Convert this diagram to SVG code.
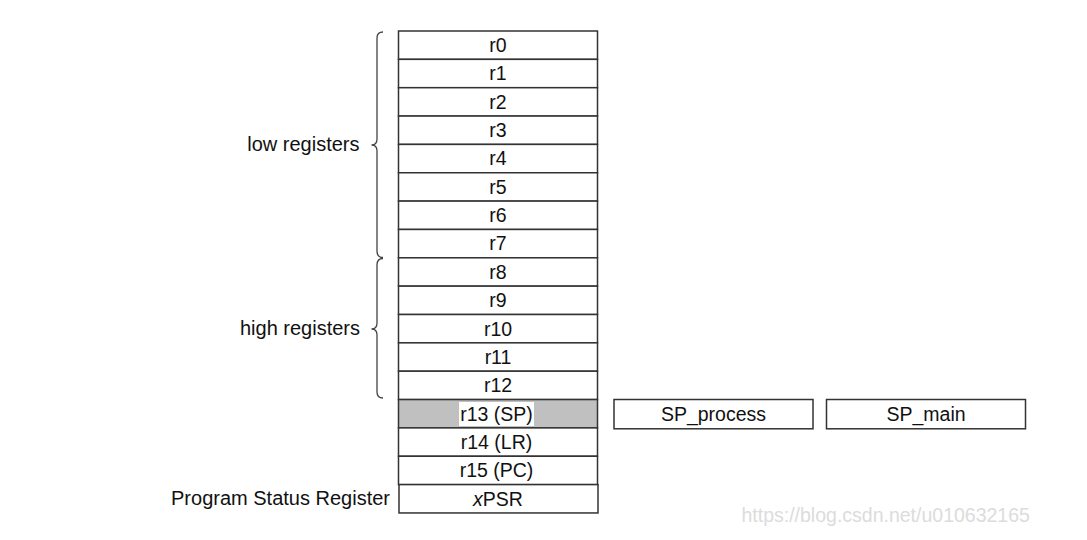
<svg xmlns="http://www.w3.org/2000/svg" width="1087" height="540" viewBox="0 0 1087 540">
<style>
.box{fill:#fff;stroke:#333;stroke-width:1.5}
.gray{fill:#c0c0c0;stroke:#333;stroke-width:1.5}
.t{font-family:"Liberation Sans",Arial,sans-serif;font-size:19.5px;fill:#111;text-anchor:middle}
.lbl{font-family:"Liberation Sans",Arial,sans-serif;font-size:20px;fill:#111;text-anchor:end}
.brace{fill:none;stroke:#444;stroke-width:1.3}
.wm{font-family:"Liberation Sans",Arial,sans-serif;font-size:19.5px;fill:#dcdcdc}
</style>
<rect width="1087" height="540" fill="#fff"/>
<g id="registers">
<g id="r0"><rect class="box" x="398.5" y="31" width="199" height="28.35"/><text class="t" x="498" y="52">r0</text></g>
<g id="r1"><rect class="box" x="398.5" y="59.35" width="199" height="28.35"/><text class="t" x="498" y="80.35">r1</text></g>
<g id="r2"><rect class="box" x="398.5" y="87.7" width="199" height="28.35"/><text class="t" x="498" y="108.7">r2</text></g>
<g id="r3"><rect class="box" x="398.5" y="116.05" width="199" height="28.35"/><text class="t" x="498" y="137.05">r3</text></g>
<g id="r4"><rect class="box" x="398.5" y="144.4" width="199" height="28.35"/><text class="t" x="498" y="165.4">r4</text></g>
<g id="r5"><rect class="box" x="398.5" y="172.75" width="199" height="28.35"/><text class="t" x="498" y="193.75">r5</text></g>
<g id="r6"><rect class="box" x="398.5" y="201.1" width="199" height="28.35"/><text class="t" x="498" y="222.1">r6</text></g>
<g id="r7"><rect class="box" x="398.5" y="229.45" width="199" height="28.35"/><text class="t" x="498" y="250.45">r7</text></g>
<g id="r8"><rect class="box" x="398.5" y="257.8" width="199" height="28.35"/><text class="t" x="498" y="278.8">r8</text></g>
<g id="r9"><rect class="box" x="398.5" y="286.15" width="199" height="28.35"/><text class="t" x="498" y="307.15">r9</text></g>
<g id="r10"><rect class="box" x="398.5" y="314.5" width="199" height="28.35"/><text class="t" x="498" y="335.5">r10</text></g>
<g id="r11"><rect class="box" x="398.5" y="342.85" width="199" height="28.35"/><text class="t" x="498" y="363.85">r11</text></g>
<g id="r12"><rect class="box" x="398.5" y="371.2" width="199" height="28.35"/><text class="t" x="498" y="392.2">r12</text></g>
<g id="r13"><rect class="gray" x="398.5" y="399.55" width="199" height="28.35"/><rect x="459" y="402" width="75" height="24" fill="#fff"/><text class="t" x="496.5" y="420.55">r13 (SP)</text></g>
<g id="r14"><rect class="box" x="398.5" y="427.9" width="199" height="28.35"/><text class="t" x="496.5" y="448.9">r14 (LR)</text></g>
<g id="r15"><rect class="box" x="398.5" y="456.25" width="199" height="28.35"/><text class="t" x="496.5" y="477.25">r15 (PC)</text></g>
<g id="xpsr"><rect class="box" x="399" y="484.6" width="199" height="28.35"/><text class="t" x="498" y="505.6"><tspan font-style="italic">x</tspan>PSR</text></g>
</g>
<g id="sp_process"><rect class="box" x="614" y="399.5" width="199" height="29.3"/><text class="t" x="713.5" y="420.5">SP_process</text></g>
<g id="sp_main"><rect class="box" x="826.5" y="399.5" width="199" height="29.3"/><text class="t" x="926" y="420.5">SP_main</text></g>
<g id="connectors">
<path class="brace" d="M383,32 Q377,32 377,38 L377,139 Q377,145 371.5,145 Q377,145 377,151 L377,251 Q377,257.5 383,257.5"/>
<path class="brace" d="M383,258.5 Q377,258.5 377,265 L377,323 Q377,329 371.5,329 Q377,329 377,335 L377,392 Q377,398 383,398"/>
</g>
<g id="labels">
<text class="lbl" x="359.5" y="151">low registers</text>
<text class="lbl" x="360" y="335">high registers</text>
<text class="lbl" x="390" y="504.5">Program Status Register</text>
</g>
<text class="wm" x="741.5" y="522">https://blog.csdn.net/u010632165</text>
</svg>
